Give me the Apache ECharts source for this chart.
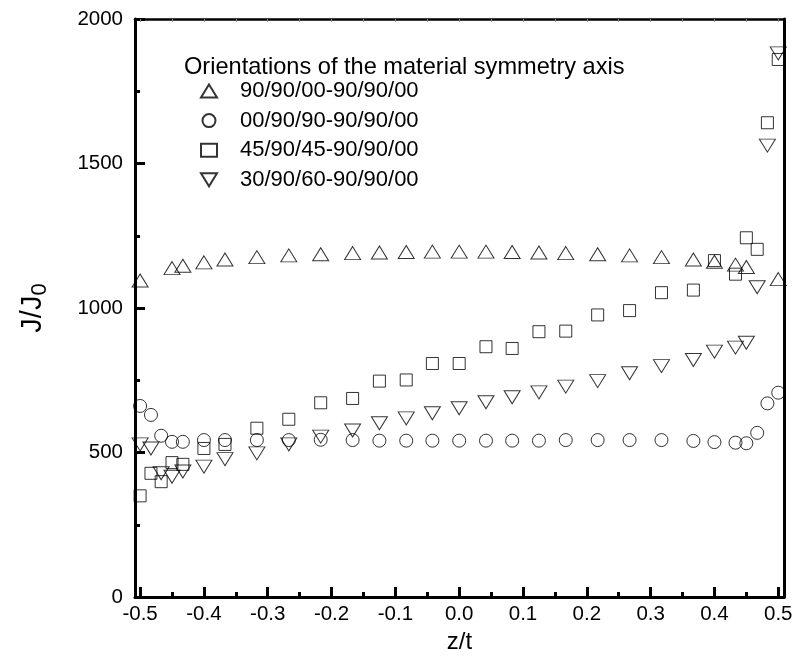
<!DOCTYPE html>
<html>
<head>
<meta charset="utf-8">
<script src="https://cdn.jsdelivr.net/npm/echarts@6/dist/echarts.min.js"></script>
<style>
  html, body { margin: 0; padding: 0; background: #fff; }
  #chart { width: 797px; height: 665px; }
</style>
</head>
<body>
<div id="chart"></div>
<script>
// positions through the thickness (z/t)
var zAll = [-0.5, -0.483, -0.467, -0.45, -0.433, -0.4, -0.367, -0.317, -0.267, -0.217, -0.167,
            -0.125, -0.083, -0.042, 0, 0.042, 0.083, 0.125, 0.167, 0.217, 0.267, 0.317, 0.367,
            0.4, 0.433, 0.45, 0.467, 0.483, 0.5];
var zTri = [-0.5, -0.45, -0.433, -0.4, -0.367, -0.317, -0.267, -0.217, -0.167, -0.125, -0.083,
            -0.042, 0, 0.042, 0.083, 0.125, 0.167, 0.217, 0.267, 0.317, 0.367, 0.4, 0.433, 0.45, 0.5];

// J/J0 values
var s90_90_00 = [1095, 1138, 1146, 1158, 1168, 1176, 1182, 1186, 1190, 1192, 1194, 1195, 1195,
                 1195, 1194, 1192, 1190, 1186, 1182, 1176, 1168, 1160, 1150, 1142, 1100];
var s00_90_90 = [661, 630, 558, 537, 537, 543, 543, 543, 543, 544, 543, 541, 541, 541, 541, 541,
                 541, 541, 543, 543, 543, 543, 540, 536, 534, 532, 568, 670, 707];
var s45_90_45 = [350, 428, 399, 465, 459, 514, 528, 584, 615, 672, 687, 747, 751, 808, 808, 866,
                 860, 918, 920, 976, 991, 1053, 1062, 1164, 1117, 1243, 1203, 1641, 1860];
var s30_90_60 = [528, 514, 428, 416, 434, 451, 477, 497, 528, 555, 576, 601, 618, 636, 653, 674,
                 691, 708, 728, 747, 774, 799, 820, 849, 863, 880, 1072, 1562, 1881];

var names = ['90/90/00-90/90/00', '00/90/90-90/90/00', '45/90/45-90/90/00', '30/90/60-90/90/00'];
var majorX = [-0.5, -0.4, -0.3, -0.2, -0.1, 0, 0.1, 0.2, 0.3, 0.4, 0.5];
var minorX = [-0.45, -0.35, -0.25, -0.15, -0.05, 0.05, 0.15, 0.25, 0.35, 0.45];

function pairs(xs, ys) {
  var out = [];
  for (var i = 0; i < xs.length; i++) out.push([xs[i], ys[i]]);
  return out;
}

var font = 'Liberation Sans, Arial, sans-serif';
var xMin = -0.508, xMax = 0.509;
var downTri = 'path://M0,0L16,0L8,13Z';

var markStyle = { color: 'rgba(255,255,255,0)', borderColor: '#000', borderWidth: 1 };

var chart = echarts.init(document.getElementById('chart'));
chart.setOption({
  animation: false,
  backgroundColor: '#fff',
  title: {
    text: 'Orientations of the material symmetry axis',
    left: 179, top: 50,
    textStyle: { fontFamily: font, fontSize: 23.6, fontWeight: 'normal', color: '#000' }
  },
  legend: {
    orient: 'vertical',
    left: 195, top: 75,
    itemWidth: 16, itemHeight: 13, itemGap: 7.6,
    data: [
      { name: names[0], icon: 'triangle' },
      { name: names[1], icon: 'circle' },
      { name: names[2], icon: 'rect' },
      { name: names[3], icon: downTri }
    ],
    textStyle: { fontFamily: font, fontSize: 22, color: '#000', lineHeight: 22, padding: [0, 0, 0, 18] }
  },
  grid: { left: 135, right: 13, top: 19, bottom: 68 },
  xAxis: [
    {
      type: 'value', min: xMin, max: xMax, position: 'bottom',
      name: 'z/t', nameLocation: 'middle', nameGap: 33,
      nameTextStyle: { fontFamily: font, fontSize: 24, color: '#000' },
      axisLine: { onZero: false, lineStyle: { color: '#000', width: 3 } },
      axisTick: { inside: true, length: 10, customValues: majorX, lineStyle: { color: '#000', width: 3 } },
      axisLabel: { customValues: majorX, fontFamily: font, fontSize: 20.5, color: '#000', margin: 7,
                   formatter: function (v) { return v.toFixed(1); } },
      splitLine: { show: false }
    },
    {
      type: 'value', min: xMin, max: xMax, position: 'bottom',
      axisLine: { show: false, onZero: false },
      axisTick: { inside: true, length: 5, customValues: minorX, lineStyle: { color: '#000', width: 3 } },
      axisLabel: { show: false },
      splitLine: { show: false }
    },
    {
      type: 'value', min: xMin, max: xMax, position: 'top',
      axisLine: { onZero: false, lineStyle: { color: '#000', width: 2.5 } },
      axisTick: { inside: true, length: 3, customValues: minorX.concat(majorX), lineStyle: { color: '#888', width: 1 } },
      axisLabel: { show: false },
      splitLine: { show: false }
    }
  ],
  yAxis: [
    {
      type: 'value', min: 0, max: 2000, interval: 500, position: 'left',
      name: '{a|J/J}{b|0}', nameLocation: 'middle', nameGap: 84,
      nameTextStyle: {
        color: '#000',
        rich: {
          a: { fontFamily: font, fontSize: 29, color: '#000' },
          b: { fontFamily: font, fontSize: 22, color: '#000', padding: [14, 0, 0, 0] }
        }
      },
      axisLine: { onZero: false, lineStyle: { color: '#000', width: 3 } },
      axisTick: { inside: true, length: 10, lineStyle: { color: '#000', width: 3 } },
      minorTick: { show: true, splitNumber: 2, length: 5, lineStyle: { color: '#000', width: 3 } },
      axisLabel: { fontFamily: font, fontSize: 20.5, color: '#000', margin: 12,
                   formatter: function (v) { return String(v); } },
      splitLine: { show: false },
      minorSplitLine: { show: false }
    },
    {
      type: 'value', min: 0, max: 2000, interval: 500, position: 'right',
      axisLine: { show: true, onZero: false, lineStyle: { color: '#000', width: 3 } },
      axisTick: { show: false },
      axisLabel: { show: false },
      splitLine: { show: false }
    }
  ],
  series: [
    {
      name: names[0], type: 'scatter', symbol: 'triangle', symbolSize: [16, 13],
      itemStyle: markStyle, data: pairs(zTri, s90_90_00)
    },
    {
      name: names[1], type: 'scatter', symbol: 'circle', symbolSize: 13,
      itemStyle: markStyle, data: pairs(zAll, s00_90_90)
    },
    {
      name: names[2], type: 'scatter', symbol: 'rect', symbolSize: 12,
      itemStyle: markStyle, data: pairs(zAll, s45_90_45)
    },
    {
      name: names[3], type: 'scatter', symbol: 'triangle', symbolRotate: 180, symbolSize: [16, 13],
      itemStyle: markStyle, data: pairs(zAll, s30_90_60)
    }
  ]
});
</script>
</body>
</html>
